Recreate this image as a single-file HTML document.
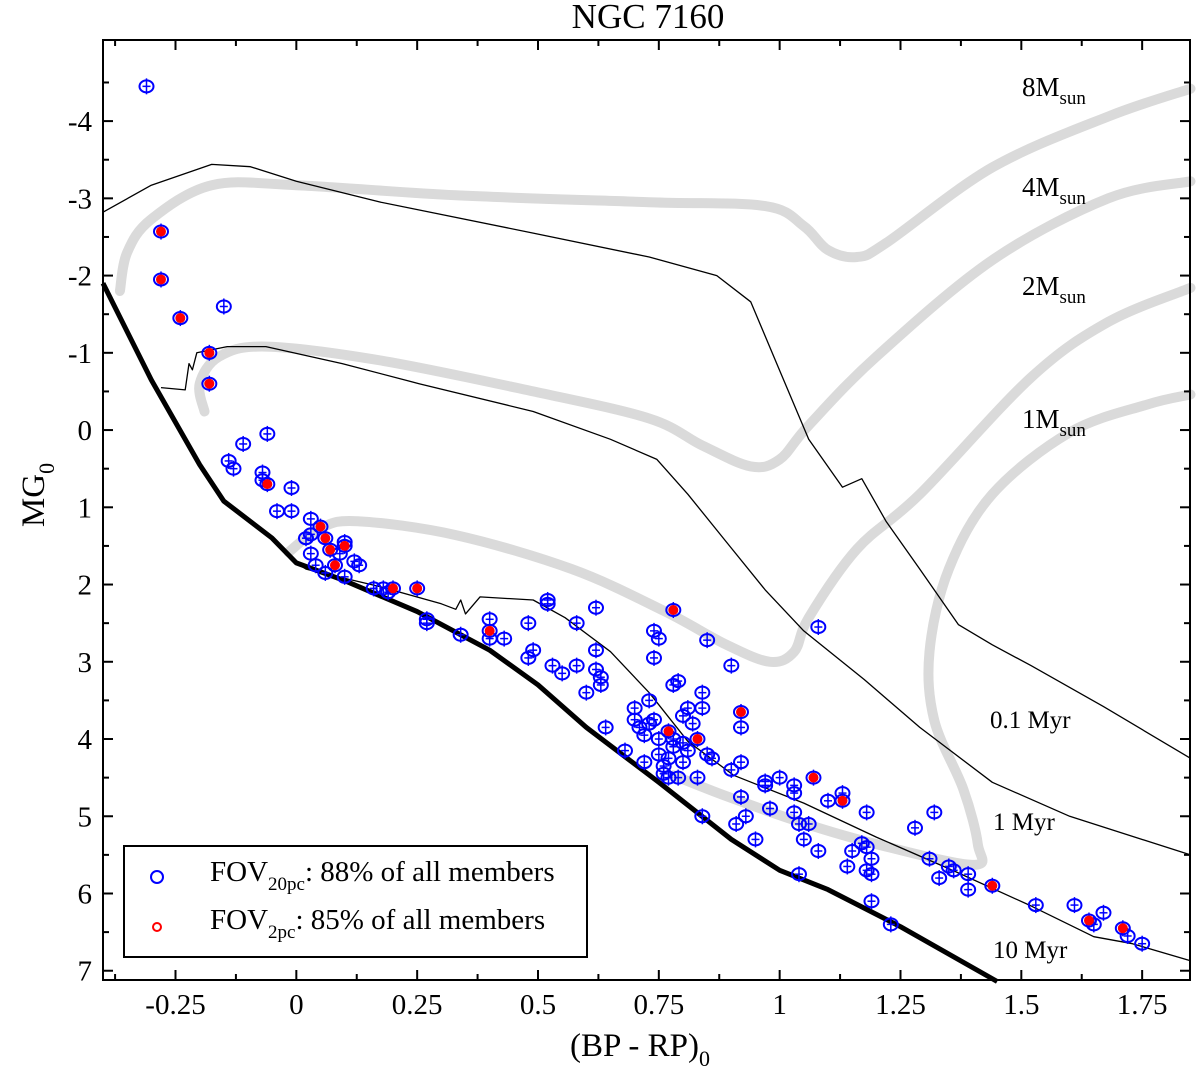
<!DOCTYPE html>
<html><head><meta charset="utf-8">
<style>
html,body{margin:0;padding:0;background:#fff;}
svg{display:block;font-family:"Liberation Serif",serif;}
</style></head>
<body>
<svg id="chart" width="1200" height="1076" viewBox="0 0 1200 1076" xmlns="http://www.w3.org/2000/svg">
<text x="648" y="28" font-size="35" text-anchor="middle">NGC 7160</text>
<g id="tracks"></g>
<g id="lines"></g>
<g id="pts"></g>
<g id="axes"></g>
<rect x="103" y="40" width="1087" height="940" fill="none" stroke="#000" stroke-width="2"/>
<g font-size="27">
<text x="1022" y="96">8M<tspan font-size="19" dy="8">sun</tspan></text>
<text x="1022" y="196">4M<tspan font-size="19" dy="8">sun</tspan></text>
<text x="1022" y="295">2M<tspan font-size="19" dy="8">sun</tspan></text>
<text x="1022" y="428">1M<tspan font-size="19" dy="8">sun</tspan></text>
<text x="990" y="728" font-size="25">0.1 Myr</text>
<text x="993" y="830" font-size="25">1 Myr</text>
<text x="993" y="958" font-size="25">10 Myr</text>
</g>
<text x="640" y="1056" font-size="33" text-anchor="middle">(BP - RP)<tspan font-size="22" dy="10">0</tspan></text>
<text transform="translate(44,495) rotate(-90)" font-size="33" text-anchor="middle">MG<tspan font-size="22" dy="10">0</tspan></text>
<g>
<rect x="124" y="846" width="463" height="111" fill="#fff" stroke="#000" stroke-width="2"/>
<circle cx="157" cy="877" r="6" fill="none" stroke="#00f" stroke-width="2"/>
<text x="210" y="881" font-size="29">FOV<tspan font-size="19" dy="9">20pc</tspan><tspan dy="-9">: 88% of all members</tspan></text>
<circle cx="157" cy="927" r="4" fill="none" stroke="#f00" stroke-width="2"/>
<text x="210" y="929" font-size="29">FOV<tspan font-size="19" dy="9">2pc</tspan><tspan dy="-9">: 85% of all members</tspan></text>
</g>
</svg>
<script>
const xTicks=[-0.25,0,0.25,0.5,0.75,1,1.25,1.5,1.75];
const xTickLabels=["-0.25","0","0.25","0.5","0.75","1","1.25","1.5","1.75"];
const yTicks=[-4,-3,-2,-1,0,1,2,3,4,5,6,7];
const yTickLabels=["-4","-3","-2","-1","0","1","2","3","4","5","6","7"];
const zams=[[-0.40,-1.9],[-0.3,-0.65],[-0.2,0.45],[-0.15,0.92],[-0.05,1.4],[0,1.72],[0.1,1.95],[0.25,2.35],[0.4,2.85],[0.5,3.3],[0.6,3.85],[0.75,4.56],[0.9,5.3],[1.0,5.7],[1.1,5.95],[1.25,6.43],[1.45,7.14]];
const iso01=[[-0.40,-2.82],[-0.3,-3.17],[-0.175,-3.44],[-0.095,-3.41],[0,-3.22],[0.175,-2.95],[0.49,-2.55],[0.73,-2.24],[0.87,-2.0],[0.94,-1.66],[1.0,-0.77],[1.06,0.12],[1.13,0.74],[1.17,0.63],[1.22,1.18],[1.29,1.8],[1.37,2.52],[1.44,2.78],[1.52,3.05],[1.67,3.58],[1.85,4.25]];
const iso1=[[-0.28,-0.55],[-0.23,-0.52],[-0.222,-0.86],[-0.215,-0.78],[-0.206,-1.0],[-0.143,-1.08],[-0.063,-1.08],[0.095,-0.86],[0.254,-0.6],[0.49,-0.24],[0.65,0.12],[0.746,0.38],[0.81,0.83],[0.89,1.45],[0.97,2.07],[1.05,2.6],[1.175,3.23],[1.29,3.85],[1.44,4.56],[1.6,5.0],[1.85,5.5]];
const iso10=[[0,1.72],[0.02,1.8],[0.175,2.03],[0.3,2.25],[0.33,2.32],[0.34,2.2],[0.35,2.38],[0.38,2.16],[0.49,2.2],[0.556,2.43],[0.65,2.87],[0.73,3.4],[0.81,4.03],[0.905,4.47],[1.05,4.83],[1.2,5.27],[1.365,5.72],[1.52,6.16],[1.65,6.56],[1.73,6.65],[1.85,6.87]];
const trk8=[[-0.365,-1.8],[-0.35,-2.3],[-0.3,-2.73],[-0.175,-3.17],[0,-3.17],[0.33,-3.04],[0.73,-2.95],[0.97,-2.9],[1.05,-2.64],[1.1,-2.33],[1.16,-2.24],[1.22,-2.42],[1.44,-3.4],[1.68,-4.06],[1.85,-4.42]];
const trk4=[[-0.19,-0.24],[-0.2,-0.6],[-0.16,-0.95],[-0.063,-1.08],[0.175,-0.9],[0.49,-0.5],[0.73,-0.15],[0.84,0.2],[0.94,0.47],[1.0,0.38],[1.06,-0.06],[1.2,-0.95],[1.44,-2.2],[1.68,-3.0],[1.85,-3.22]];
const trk2=[[-0.016,1.58],[0.05,1.27],[0.127,1.18],[0.33,1.36],[0.57,1.8],[0.76,2.34],[0.89,2.78],[0.98,3.0],[1.03,2.87],[1.06,2.43],[1.16,1.54],[1.29,0.83],[1.52,-0.68],[1.68,-1.4],[1.85,-1.84]];
const trk1=[[0.78,4.47],[0.89,4.74],[1.05,5.09],[1.2,5.36],[1.4,5.63],[1.41,5.36],[1.38,4.65],[1.32,3.76],[1.31,2.87],[1.35,1.8],[1.44,0.83],[1.6,0.03],[1.76,-0.33],[1.85,-0.46]];
const blueX=[-0.31,-0.28,-0.28,-0.24,-0.15,-0.18,-0.18,-0.06,-0.11,-0.14,-0.13,-0.07,-0.07,-0.06,-0.01,-0.04,-0.01,0.03,0.02,0.03,0.03,0.05,0.06,0.07,0.04,0.06,0.08,0.1,0.1,0.09,0.12,0.13,0.1,0.16,0.18,0.19,0.2,0.25,0.27,0.27,0.34,0.4,0.4,0.4,0.43,0.48,0.49,0.48,0.52,0.52,0.53,0.55,0.58,0.58,0.6,0.62,0.62,0.62,0.63,0.63,0.64,0.68,0.7,0.7,0.71,0.72,0.73,0.74,0.75,0.74,0.74,0.75,0.75,0.76,0.77,0.78,0.78,0.78,0.77,0.79,0.8,0.79,0.8,0.81,0.82,0.83,0.83,0.84,0.84,0.85,0.86,0.84,0.9,0.92,0.92,0.9,0.92,0.92,0.93,0.91,0.95,0.97,0.97,0.98,1.0,1.03,1.03,1.03,1.04,1.05,1.06,1.07,1.08,1.08,1.1,1.13,1.13,1.04,1.15,1.14,1.17,1.18,1.18,1.19,1.19,1.18,1.19,1.23,1.28,1.32,1.31,1.33,1.35,1.36,1.39,1.39,1.44,1.53,1.61,1.64,1.65,1.67,1.71,1.72,1.75,0.72,0.76,0.78,0.81,0.85,0.73,0.77,0.8];
const blueY=[-4.45,-2.57,-1.95,-1.45,-1.6,-1.0,-0.6,0.05,0.18,0.4,0.5,0.55,0.65,0.7,0.75,1.05,1.05,1.15,1.4,1.35,1.6,1.25,1.4,1.55,1.75,1.85,1.75,1.5,1.45,1.6,1.7,1.75,1.9,2.05,2.05,2.1,2.05,2.05,2.45,2.5,2.65,2.45,2.6,2.7,2.7,2.5,2.85,2.95,2.2,2.25,3.05,3.15,2.5,3.05,3.4,2.3,2.85,3.1,3.3,3.2,3.85,4.15,3.6,3.75,3.85,3.95,3.5,2.6,2.7,2.95,3.75,4.0,4.2,4.35,3.9,2.33,3.3,4.1,4.5,3.25,3.7,4.5,4.3,3.6,3.8,4.0,4.5,3.4,3.6,2.72,4.25,5.0,3.05,3.65,3.85,4.4,4.3,4.75,5.0,5.1,5.3,4.55,4.6,4.9,4.5,4.6,4.7,4.95,5.1,5.3,5.1,4.5,2.55,5.45,4.8,4.7,4.8,5.75,5.45,5.65,5.35,5.4,5.7,5.55,5.75,4.95,6.1,6.4,5.15,4.95,5.55,5.8,5.65,5.7,5.75,5.95,5.9,6.15,6.15,6.35,6.4,6.25,6.45,6.55,6.65,4.3,4.45,4.0,4.15,4.2,3.8,4.25,4.05];
const redX=[-0.28,-0.28,-0.24,-0.18,-0.18,-0.06,0.05,0.06,0.07,0.08,0.1,0.2,0.25,0.4,0.77,0.78,0.83,0.92,1.07,1.13,1.44,1.64,1.71];
const redY=[-2.57,-1.95,-1.45,-1.0,-0.6,0.7,1.25,1.4,1.55,1.75,1.5,2.05,2.05,2.6,3.9,2.33,4.0,3.65,4.5,4.8,5.9,6.35,6.45];

const NS="http://www.w3.org/2000/svg";
const X0=103,X1=1190,Y0=40,Y1=980,XMIN=-0.40,XMAX=1.849,YMIN=-5.05,YMAX=7.12;
function sx(v){return X0+(v-XMIN)/(XMAX-XMIN)*(X1-X0);}
function sy(v){return Y0+(v-YMIN)/(YMAX-YMIN)*(Y1-Y0);}
function mk(tag,attrs,parent){const e=document.createElementNS(NS,tag);for(const k in attrs)e.setAttribute(k,attrs[k]);parent.appendChild(e);return e;}
function pathOf(arr){return arr.map((p,i)=>(i?'L':'M')+sx(p[0]).toFixed(1)+','+sy(p[1]).toFixed(1)).join(' ');}
function smoothPath(arr){
  const P=arr.map(p=>[sx(p[0]),sy(p[1])]);
  let d='M'+P[0][0].toFixed(1)+','+P[0][1].toFixed(1);
  for(let i=0;i<P.length-1;i++){
    const p0=P[i-1]||P[i],p1=P[i],p2=P[i+1],p3=P[i+2]||P[i+1];
    const c1=[p1[0]+(p2[0]-p0[0])/6,p1[1]+(p2[1]-p0[1])/6];
    const c2=[p2[0]-(p3[0]-p1[0])/6,p2[1]-(p3[1]-p1[1])/6];
    d+=' C'+c1[0].toFixed(1)+','+c1[1].toFixed(1)+' '+c2[0].toFixed(1)+','+c2[1].toFixed(1)+' '+p2[0].toFixed(1)+','+p2[1].toFixed(1);
  }
  return d;
}
const tracksG=document.getElementById('tracks');
const trackNames=['track-8msun','track-4msun','track-2msun','track-1msun'];
[trk8,trk4,trk2,trk1].forEach((t,i)=>{
  const p=mk('path',{d:smoothPath(t),fill:'none',stroke:'#dadada','stroke-width':10,'stroke-linejoin':'round','stroke-linecap':'round'},tracksG);
  
  
});
const linesG=document.getElementById('lines');
const lineNames=['isochrone-0.1myr','isochrone-1myr','isochrone-10myr'];
[iso01,iso1,iso10].forEach((t,i)=>{
  const p=mk('path',{d:pathOf(t),fill:'none',stroke:'#000','stroke-width':1.3,'stroke-linejoin':'round'},linesG);
  
  
});
const z=mk('path',{d:pathOf(zams),fill:'none',stroke:'#000','stroke-width':5,'stroke-linejoin':'round'},linesG);


const ptsG=document.getElementById('pts');
for(let i=0;i<blueX.length;i++){
  const cx=sx(blueX[i]),cy=sy(blueY[i]);
  const g=mk('g',{},ptsG);
  
  
  mk('ellipse',{cx:cx,cy:cy,rx:7,ry:6,fill:'none',stroke:'#00f','stroke-width':2},g);
  mk('line',{x1:cx-4,y1:cy,x2:cx+4,y2:cy,stroke:'#00f','stroke-width':1.5},g);
  mk('line',{x1:cx,y1:cy-8,x2:cx,y2:cy+8,stroke:'#00f','stroke-width':1.5},g);
}
for(let i=0;i<redX.length;i++){
  const c=mk('circle',{cx:sx(redX[i]),cy:sy(redY[i]),r:4.5,fill:'#f00',stroke:'#f00','stroke-width':1},ptsG);
  
  
}
const axG=document.getElementById('axes');
xTicks.forEach((v,i)=>{
  const x=sx(v);
  mk('line',{x1:x,y1:Y1,x2:x,y2:Y1-10,stroke:'#000','stroke-width':2},axG);
  mk('line',{x1:x,y1:Y0,x2:x,y2:Y0+10,stroke:'#000','stroke-width':2},axG);
  const m=sx(v-0.125);
  if(m>X0){mk('line',{x1:m,y1:Y1,x2:m,y2:Y1-6,stroke:'#000','stroke-width':2},axG);mk('line',{x1:m,y1:Y0,x2:m,y2:Y0+6,stroke:'#000','stroke-width':2},axG);}
  const t=mk('text',{x:x,y:1014,'font-size':29,'text-anchor':'middle'},axG);
  
  
  t.textContent=xTickLabels[i];
});
yTicks.forEach((v,i)=>{
  const y=sy(v);
  mk('line',{x1:X0,y1:y,x2:X0+10,y2:y,stroke:'#000','stroke-width':2},axG);
  mk('line',{x1:X1,y1:y,x2:X1-10,y2:y,stroke:'#000','stroke-width':2},axG);
  const m=sy(v-0.5);
  if(m>Y0){mk('line',{x1:X0,y1:m,x2:X0+6,y2:m,stroke:'#000','stroke-width':2},axG);mk('line',{x1:X1,y1:m,x2:X1-6,y2:m,stroke:'#000','stroke-width':2},axG);}
  const t=mk('text',{x:92,y:y+10,'font-size':29,'text-anchor':'end'},axG);
  
  
  t.textContent=yTickLabels[i];
});
</script>
</body></html>
